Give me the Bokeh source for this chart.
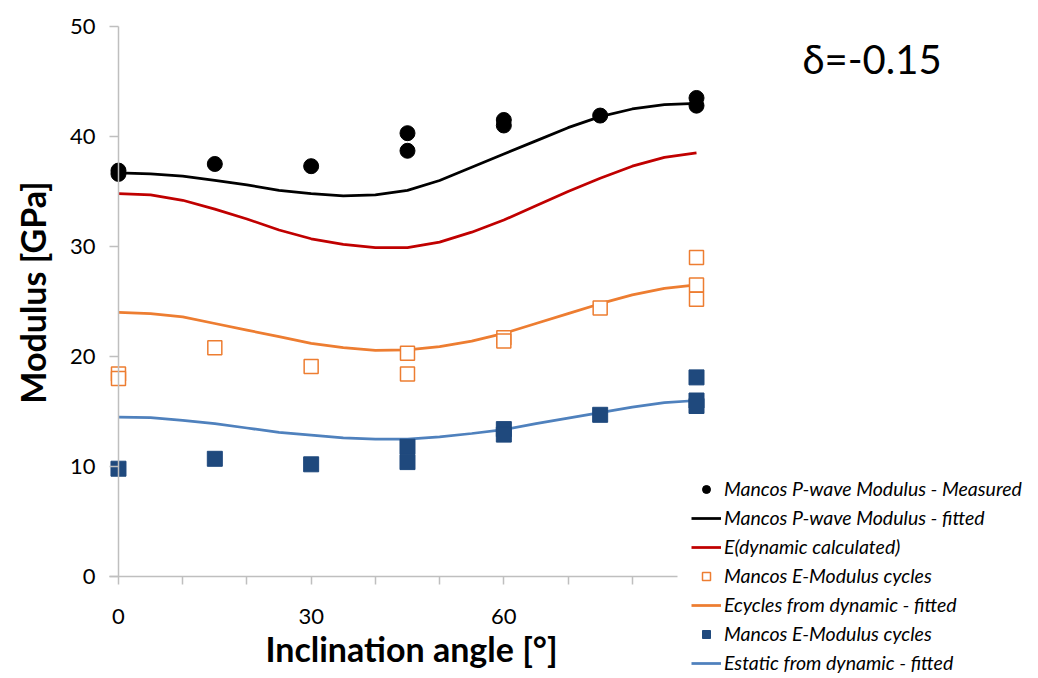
from bokeh.plotting import figure
from bokeh.models import (Legend, LegendItem, Label, FixedTicker, LinearAxis)
from bokeh.embed import file_html
from bokeh.resources import INLINE

# ---------------- data ----------------
# measured points
pw_meas_x = [0, 0, 15, 30, 45, 45, 60, 60, 75, 90, 90]
pw_meas_y = [36.9, 36.6, 37.5, 37.3, 40.3, 38.7, 41.5, 41.0, 41.9, 43.5, 42.8]

ecyc_x = [0, 0, 15, 30, 45, 45, 60, 60, 75, 90, 90, 90]
ecyc_y = [18.4, 18.0, 20.8, 19.1, 20.3, 18.4, 21.7, 21.4, 24.4, 29.0, 26.5, 25.2]

estat_x = [0, 15, 30, 45, 45, 60, 60, 75, 90, 90, 90]
estat_y = [9.8, 10.7, 10.2, 11.8, 10.4, 13.4, 12.9, 14.7, 18.1, 16.0, 15.5]

# fitted curves (read every 5 degrees)
fit_x = [0, 5, 10, 15, 20, 25, 30, 35, 40, 45, 50, 55, 60, 65, 70, 75, 80, 85, 90]
pw_fit = [36.7, 36.6, 36.4, 36.0, 35.6, 35.1, 34.8, 34.6, 34.7, 35.1, 36.0,
          37.2, 38.4, 39.6, 40.8, 41.8, 42.5, 42.9, 43.0]
edyn_fit = [34.8, 34.7, 34.2, 33.4, 32.5, 31.5, 30.7, 30.2, 29.9, 29.9, 30.4,
            31.3, 32.4, 33.7, 35.0, 36.2, 37.3, 38.1, 38.5]
ecyc_fit = [24.0, 23.9, 23.6, 23.0, 22.4, 21.8, 21.2, 20.8, 20.55, 20.6, 20.9,
            21.4, 22.1, 23.0, 23.9, 24.8, 25.6, 26.2, 26.5]
estat_fit = [14.5, 14.45, 14.2, 13.9, 13.5, 13.1, 12.85, 12.6, 12.5, 12.5, 12.7,
             13.0, 13.35, 13.9, 14.4, 14.9, 15.4, 15.8, 16.0]

x_major = [0, 30, 60]
x_minor = [10, 20, 40, 50, 70, 80]
y_ticks = [0, 10, 20, 30, 40, 50]

labels = ["Mancos P-wave Modulus - Measured",
          "Mancos P-wave Modulus - fitted",
          "E(dynamic calculated)",
          "Mancos E-Modulus cycles",
          "Ecycles from dynamic - fitted",
          "Mancos E-Modulus cycles",
          "Estatic from dynamic - fitted"]

x_title = "Inclination angle [°]"
y_title = "Modulus [GPa]"
annotation_text = "δ=-0.15"

# ---------------- styling ----------------
FONT = "Lato"
AX = "#BFBFBF"
BLACK = "#000000"
RED = "#C00000"
ORANGE = "#ED7D31"
BLUE_LINE = "#4F81BD"
BLUE_SQ = "#1F497D"

W, H = 1038, 678
# frame covers the whole canvas; axes are pinned at x=0 / y=0
p = figure(width=W, height=H, output_backend="svg", toolbar_location=None,
           x_range=(-18.37, 143.25), y_range=(-9.27, 52.36),
           x_axis_type=None, y_axis_type=None,
           min_border=0)
p.outline_line_color = None
p.grid.visible = False
p.background_fill_color = "white"
p.border_fill_color = "white"

# x axis: line, ticks, tick labels
xa = LinearAxis(fixed_location=0, bounds=(-1.4, 87))
xa.ticker = FixedTicker(ticks=x_major, minor_ticks=x_minor)
xa.axis_line_color = AX
xa.axis_line_width = 1.5
xa.major_tick_line_color = AX
xa.minor_tick_line_color = AX
xa.major_tick_line_width = 1.5
xa.minor_tick_line_width = 1.5
xa.major_tick_out = 8
xa.major_tick_in = 0
xa.minor_tick_out = 8
xa.minor_tick_in = 0
xa.major_label_text_font = FONT
xa.major_label_text_font_size = "22px"
xa.major_label_text_color = BLACK
xa.major_label_standoff = 24
p.add_layout(xa, "below")

# x axis title (separate axis so it centres like the reference)
xt = LinearAxis(fixed_location=0, bounds=(0, 91.2))
xt.ticker = FixedTicker(ticks=[], minor_ticks=[])
xt.axis_line_color = None
xt.major_tick_line_color = None
xt.minor_tick_line_color = None
xt.major_label_text_font_size = "0px"
xt.axis_label = x_title
xt.axis_label_text_font = FONT
xt.axis_label_text_font_size = "34px"
xt.axis_label_text_font_style = "bold"
xt.axis_label_text_color = BLACK
xt.axis_label_standoff = 51
p.add_layout(xt, "below")

# y axis: line, ticks, tick labels
ya = LinearAxis(fixed_location=0, bounds=(0, 50))
ya.ticker = FixedTicker(ticks=y_ticks, minor_ticks=[])
ya.axis_line_color = AX
ya.axis_line_width = 1.5
ya.major_tick_line_color = AX
ya.major_tick_line_width = 1.5
ya.major_tick_in = 0
ya.major_tick_out = 9
ya.minor_tick_line_color = None
ya.major_label_text_font = FONT
ya.major_label_text_font_size = "22px"
ya.major_label_text_color = BLACK
ya.major_label_standoff = 14
p.add_layout(ya, "left")

# y axis title
yt = LinearAxis(fixed_location=0, bounds=(0, 51.6))
yt.ticker = FixedTicker(ticks=[], minor_ticks=[])
yt.axis_line_color = None
yt.major_tick_line_color = None
yt.minor_tick_line_color = None
yt.major_label_text_font_size = "0px"
yt.axis_label = y_title
yt.axis_label_text_font = FONT
yt.axis_label_text_font_size = "34px"
yt.axis_label_text_font_style = "bold"
yt.axis_label_text_color = BLACK
yt.axis_label_standoff = 66
p.add_layout(yt, "left")

# ---------------- glyphs ----------------
r_pw_fit = p.line(fit_x, pw_fit, line_color=BLACK, line_width=2.75)
r_edyn = p.line(fit_x, edyn_fit, line_color=RED, line_width=2.75)
r_ecyc_fit = p.line(fit_x, ecyc_fit, line_color=ORANGE, line_width=2.75)
r_estat_fit = p.line(fit_x, estat_fit, line_color=BLUE_LINE, line_width=2.75)

r_pw = p.scatter(pw_meas_x, pw_meas_y, marker="circle", size=15,
                 fill_color=BLACK, line_color=BLACK)
r_ecyc = p.scatter(ecyc_x, ecyc_y, marker="square", size=14,
                   fill_color="white", line_color=ORANGE, line_width=1.5)
r_estat = p.scatter(estat_x, estat_y, marker="square", size=15,
                    fill_color=BLUE_SQ, line_color=BLUE_SQ)

legend = Legend(items=[
    LegendItem(label=labels[0], renderers=[r_pw]),
    LegendItem(label=labels[1], renderers=[r_pw_fit]),
    LegendItem(label=labels[2], renderers=[r_edyn]),
    LegendItem(label=labels[3], renderers=[r_ecyc]),
    LegendItem(label=labels[4], renderers=[r_ecyc_fit]),
    LegendItem(label=labels[5], renderers=[r_estat]),
    LegendItem(label=labels[6], renderers=[r_estat_fit]),
], location=(691, 4))
legend.border_line_color = None
legend.background_fill_alpha = 0
legend.padding = 0
legend.margin = 0
legend.spacing = 6
legend.glyph_width = 30
legend.glyph_height = 20
legend.label_height = 20
legend.label_standoff = 3
legend.label_text_font = FONT
legend.label_text_font_size = "19.5px"
legend.label_text_font_style = "italic"
legend.label_text_color = BLACK
p.add_layout(legend, "center")

delta = Label(x=802, y=H - 58, x_units="screen", y_units="screen",
              text=annotation_text, text_font=FONT, text_font_size="40px",
              text_color=BLACK, text_baseline="alphabetic")
p.add_layout(delta)

open("out.html", "w").write(file_html(p, INLINE))
